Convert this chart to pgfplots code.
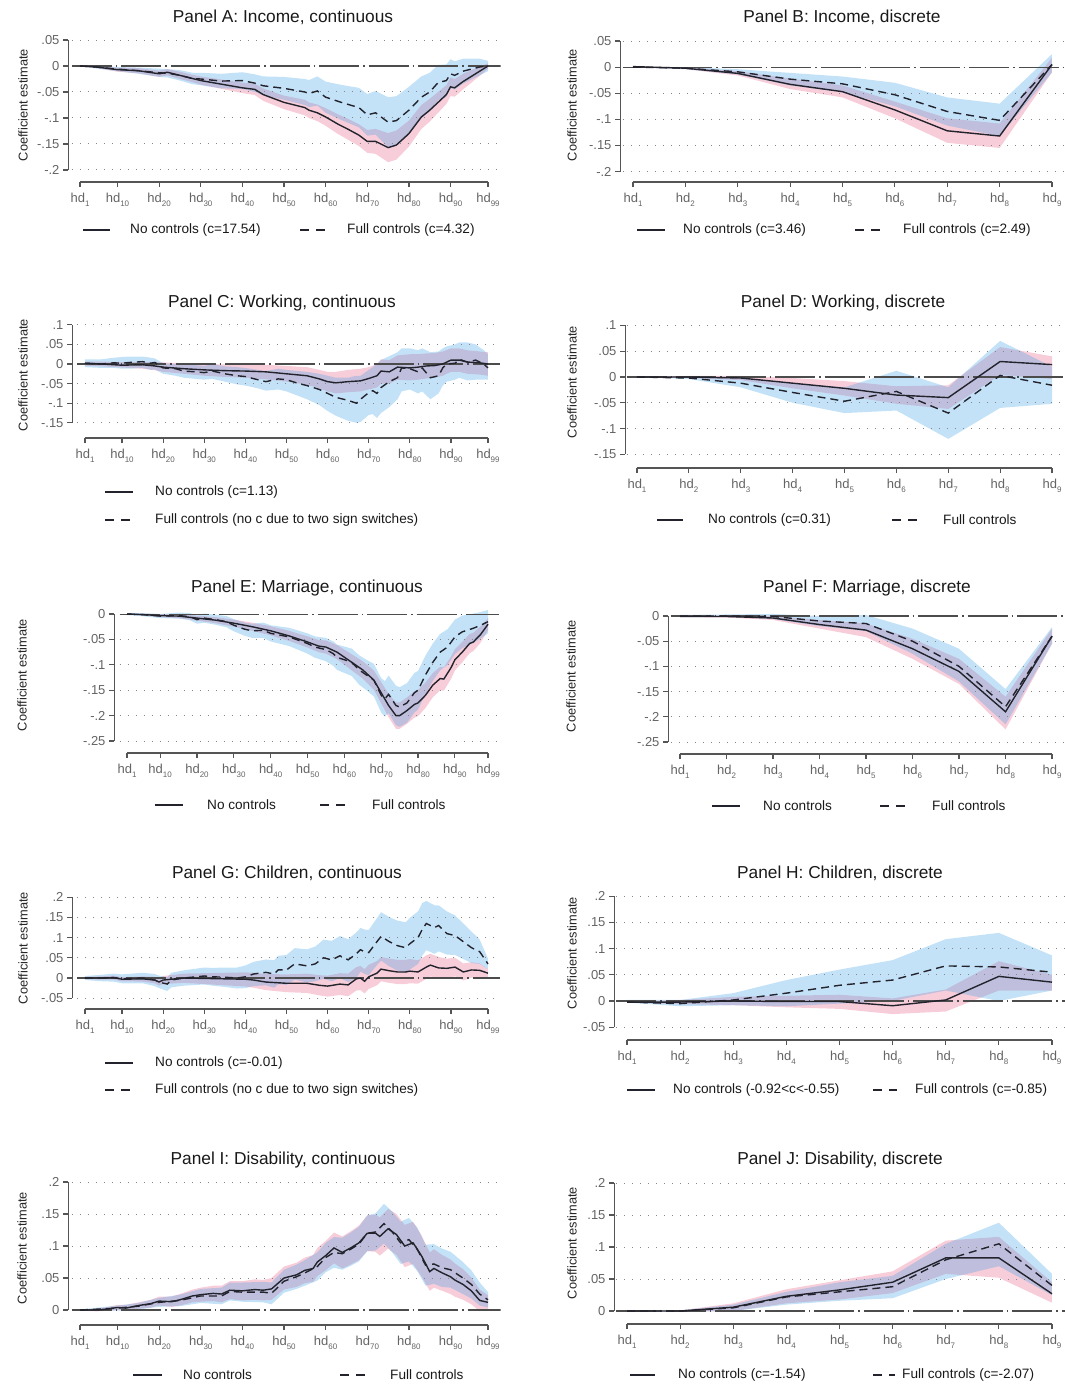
\documentclass[border=0pt]{standalone}
\usepackage{fontspec}
\setmainfont{Liberation Sans}
\usepackage{pgfplots}
\pgfplotsset{compat=1.18}
\usepackage{pgfplotstable}
\usepgfplotslibrary{fillbetween}

\definecolor{pinkB}{RGB}{230,90,130}
\definecolor{blueB}{RGB}{60,160,230}
\definecolor{estc}{RGB}{35,35,45}
\definecolor{axgray}{RGB}{85,85,85}
\definecolor{gridgray}{RGB}{135,135,135}
\definecolor{tickgray}{RGB}{100,100,100}
\definecolor{titlec}{RGB}{25,25,25}

\newcommand\hd[1]{hd\raisebox{-0.3em}{\fontsize{8}{8}\selectfont #1}}

\tikzset{
  axln/.style={draw=axgray,line width=1.3pt},
  gridst/.style={draw=gridgray,line width=1pt,dash pattern=on 1pt off 7pt},
  vgridst/.style={draw=gridgray,line width=1pt,dash pattern=on 1pt off 4.5pt},
  zeroln/.style={draw=black!70,line width=1.1pt,dash pattern=on 40pt off 4pt on 1.5pt off 4pt},
  estsolid/.style={draw=estc,line width=1.4pt},
  estdash/.style={draw=estc,line width=1.4pt,dash pattern=on 8pt off 5pt},
  ttl/.style={font=\fontsize{17.3}{20}\selectfont,text=titlec},
  ylab/.style={font=\fontsize{12.8}{15}\selectfont,text=black!85,rotate=90},
  leg/.style={font=\fontsize{13.6}{16}\selectfont,text=titlec,anchor=west,inner sep=0pt},
}

\pgfplotsset{
  base/.style={scale only axis, anchor=north west,
    axis x line*=bottom, axis y line*=left, axis line style={draw=none},
    tick align=outside, major tick length=5pt,
    every tick/.style={draw=axgray,line width=1.2pt},
    tick label style={font=\fontsize{13}{15}\selectfont,text=tickgray},
    xticklabel style={yshift=-3pt},
  },
  cont/.style={base, xmax=102,
    xtick={1,10,20,30,40,50,60,70,80,90,99},
    xticklabels={\hd{1},\hd{10},\hd{20},\hd{30},\hd{40},\hd{50},\hd{60},\hd{70},\hd{80},\hd{90},\hd{99}}},
  disc/.style={base, xmax=9.3,
    xtick={1,2,3,4,5,6,7,8,9},
    xticklabels={\hd{1},\hd{2},\hd{3},\hd{4},\hd{5},\hd{6},\hd{7},\hd{8},\hd{9}}},
}

\newcommand\band[3]{%
  \addplot[draw=none,forget plot,name path=#2u] table[x=x,y=hi]{#1};
  \addplot[draw=none,forget plot,name path=#2l] table[x=x,y=lo]{#1};
  \addplot[fill=#3,fill opacity=0.3,draw=none,forget plot] fill between[of=#2u and #2l];
}
% vertical grid: list, ylo, yhi ; horizontal grid: list, xlo, xhi
\newcommand\vgrids[3]{\pgfplotsinvokeforeach{#1}{\draw[vgridst] (axis cs:##1,#2) -- (axis cs:##1,#3);}}
\newcommand\hgrids[3]{\pgfplotsinvokeforeach{#1}{\draw[gridst] (axis cs:#2,##1) -- (axis cs:#3,##1);}}

% ---------------- data ----------------
\pgfplotstableread{
x y lo hi
1 0 0 0
5 -0.002 -0.004 0.000
10 -0.007 -0.011 -0.003
15 -0.009 -0.014 -0.004
20 -0.015 -0.021 -0.009
22 -0.012 -0.018 -0.006
25 -0.018 -0.025 -0.011
28 -0.024 -0.031 -0.017
30 -0.028 -0.036 -0.020
35 -0.035 -0.044 -0.026
40 -0.042 -0.052 -0.032
43 -0.045 -0.056 -0.034
45 -0.055 -0.067 -0.043
50 -0.070 -0.083 -0.057
55 -0.080 -0.095 -0.065
56 -0.085 -0.100 -0.070
58 -0.090 -0.106 -0.074
60 -0.098 -0.115 -0.081
63 -0.112 -0.131 -0.093
65 -0.120 -0.140 -0.100
68 -0.133 -0.154 -0.112
70 -0.145 -0.167 -0.123
72 -0.145 -0.169 -0.121
75 -0.157 -0.185 -0.129
77 -0.152 -0.180 -0.124
80 -0.130 -0.155 -0.105
83 -0.098 -0.121 -0.075
85 -0.085 -0.107 -0.063
87 -0.070 -0.090 -0.050
89 -0.055 -0.073 -0.037
90 -0.040 -0.058 -0.022
91 -0.042 -0.059 -0.025
93 -0.030 -0.045 -0.015
95 -0.020 -0.032 -0.008
97 -0.010 -0.019 -0.001
99 0.000 -0.005 0.005
}\tAs
\pgfplotstableread{
x y lo hi
1 0 0 0
5 -0.002 -0.005 0.001
10 -0.006 -0.010 -0.002
15 -0.009 -0.015 -0.003
20 -0.013 -0.021 -0.005
22 -0.014 -0.022 -0.006
25 -0.018 -0.028 -0.008
28 -0.024 -0.035 -0.013
30 -0.025 -0.037 -0.013
35 -0.029 -0.043 -0.015
40 -0.028 -0.044 -0.012
43 -0.033 -0.050 -0.016
45 -0.038 -0.056 -0.020
50 -0.043 -0.065 -0.021
55 -0.050 -0.075 -0.025
56 -0.053 -0.079 -0.027
58 -0.048 -0.076 -0.020
60 -0.060 -0.090 -0.030
63 -0.068 -0.101 -0.035
65 -0.073 -0.108 -0.038
68 -0.080 -0.118 -0.042
70 -0.094 -0.134 -0.054
72 -0.090 -0.132 -0.048
75 -0.108 -0.156 -0.060
77 -0.105 -0.152 -0.058
80 -0.085 -0.130 -0.040
83 -0.060 -0.100 -0.020
85 -0.050 -0.087 -0.013
87 -0.032 -0.066 0.002
89 -0.028 -0.059 0.003
90 -0.015 -0.043 0.013
91 -0.018 -0.045 0.009
93 -0.010 -0.034 0.014
95 -0.006 -0.026 0.014
97 -0.002 -0.018 0.014
99 0.000 -0.010 0.010
}\tAd
\pgfplotstableread{
x y lo hi
1 0.001 0.001 0.001
2 -0.002 -0.004 0.000
3 -0.012 -0.016 -0.008
4 -0.033 -0.042 -0.022
5 -0.047 -0.058 -0.035
6 -0.082 -0.098 -0.066
7 -0.122 -0.145 -0.098
8 -0.132 -0.155 -0.108
9 0.005 -0.010 0.018
}\tBs
\pgfplotstableread{
x y lo hi
1 0 0 0
2 -0.002 -0.004 0.000
3 -0.009 -0.014 -0.004
4 -0.023 -0.035 -0.011
5 -0.032 -0.048 -0.018
6 -0.053 -0.075 -0.030
7 -0.085 -0.112 -0.058
8 -0.102 -0.132 -0.070
9 0.005 -0.010 0.025
}\tBd
\pgfplotstableread{
x y lo hi
1 0.002 -0.004 0.006
5 0.000 -0.006 0.006
10 -0.003 -0.009 0.005
15 -0.002 -0.012 0.006
18 -0.005 -0.016 0.005
20 -0.008 -0.020 0.004
25 -0.012 -0.025 0.002
30 -0.015 -0.030 0.000
35 -0.017 -0.033 -0.001
40 -0.018 -0.035 0.000
45 -0.020 -0.039 -0.002
50 -0.025 -0.045 -0.005
55 -0.030 -0.053 -0.008
58 -0.038 -0.062 -0.015
60 -0.045 -0.070 -0.020
62 -0.048 -0.075 -0.020
65 -0.045 -0.072 -0.015
68 -0.043 -0.070 -0.012
70 -0.037 -0.065 -0.008
72 -0.030 -0.060 0.000
73 -0.018 -0.050 0.012
75 -0.020 -0.050 0.010
77 -0.008 -0.040 0.022
80 -0.010 -0.042 0.025
82 -0.008 -0.040 0.025
84 -0.005 -0.037 0.027
86 -0.004 -0.035 0.028
88 0.000 -0.030 0.032
90 0.010 -0.020 0.040
92 0.010 -0.020 0.040
94 0.005 -0.025 0.035
97 0.003 -0.027 0.032
99 0.000 -0.030 0.030
}\tCs
\pgfplotstableread{
x y lo hi
1 0.002 -0.008 0.012
5 0.000 -0.010 0.012
8 0.003 -0.010 0.016
10 0.002 -0.012 0.018
12 0.004 -0.012 0.019
15 0.006 -0.010 0.019
17 0.002 -0.015 0.016
18 0.004 -0.014 0.014
20 -0.010 -0.025 0.002
23 -0.012 -0.030 0.000
25 -0.018 -0.035 -0.002
28 -0.020 -0.038 -0.003
30 -0.022 -0.040 -0.005
32 -0.018 -0.038 0.000
35 -0.025 -0.045 -0.006
38 -0.030 -0.052 -0.008
40 -0.032 -0.055 -0.010
43 -0.040 -0.062 -0.015
45 -0.045 -0.068 -0.018
48 -0.038 -0.065 -0.012
50 -0.040 -0.070 -0.015
53 -0.050 -0.082 -0.018
55 -0.055 -0.090 -0.020
58 -0.065 -0.105 -0.025
60 -0.075 -0.120 -0.030
62 -0.085 -0.132 -0.035
65 -0.093 -0.145 -0.035
67 -0.100 -0.150 -0.030
68 -0.090 -0.148 -0.030
70 -0.073 -0.130 -0.015
71 -0.068 -0.128 -0.008
72 -0.075 -0.138 0.000
73 -0.060 -0.125 0.010
75 -0.045 -0.110 0.020
77 -0.035 -0.090 0.030
78 -0.010 -0.070 0.040
80 -0.012 -0.065 0.040
82 -0.020 -0.075 0.035
83 -0.010 -0.070 0.040
85 -0.035 -0.090 0.030
87 -0.030 -0.075 0.032
88 -0.010 -0.055 0.040
89 0.000 -0.045 0.045
91 0.002 -0.040 0.050
92 0.012 -0.035 0.055
94 0.005 -0.042 0.055
96 0.010 -0.040 0.050
98 0.000 -0.040 0.035
99 -0.010 -0.040 0.025
}\tCd
\pgfplotstableread{
x y lo hi
1 0 0 0
2 0 -0.002 0.002
3 -0.002 -0.006 0.002
4 -0.012 -0.022 -0.002
5 -0.022 -0.036 -0.008
6 -0.035 -0.052 -0.018
7 -0.040 -0.062 -0.016
8 0.030 0.004 0.058
9 0.024 -0.004 0.040
}\tDs
\pgfplotstableread{
x y lo hi
1 0 0 0
2 -0.002 -0.004 0.001
3 -0.012 -0.020 -0.003
4 -0.030 -0.050 -0.012
5 -0.047 -0.070 -0.020
6 -0.028 -0.065 0.012
7 -0.070 -0.120 -0.020
8 0.003 -0.060 0.070
9 -0.016 -0.052 0.020
}\tDd
\pgfplotstableread{
x y lo hi
1 0 0 0
5 -0.001 -0.003 0.001
10 -0.003 -0.006 0.000
15 -0.004 -0.008 0.000
20 -0.008 -0.013 -0.003
25 -0.012 -0.018 -0.006
30 -0.018 -0.025 -0.011
35 -0.025 -0.033 -0.017
40 -0.033 -0.042 -0.024
45 -0.043 -0.053 -0.033
50 -0.055 -0.066 -0.044
53 -0.063 -0.075 -0.051
55 -0.065 -0.078 -0.052
58 -0.075 -0.089 -0.061
60 -0.085 -0.100 -0.070
62 -0.095 -0.111 -0.079
65 -0.110 -0.127 -0.093
68 -0.130 -0.149 -0.111
70 -0.155 -0.176 -0.134
72 -0.180 -0.203 -0.157
74 -0.200 -0.226 -0.174
75 -0.200 -0.226 -0.174
77 -0.190 -0.216 -0.164
79 -0.178 -0.204 -0.152
80 -0.175 -0.201 -0.149
82 -0.160 -0.185 -0.135
84 -0.140 -0.164 -0.116
86 -0.127 -0.150 -0.104
87 -0.128 -0.151 -0.105
89 -0.105 -0.127 -0.083
90 -0.090 -0.111 -0.069
92 -0.075 -0.095 -0.055
94 -0.058 -0.077 -0.039
95 -0.055 -0.073 -0.037
97 -0.040 -0.056 -0.024
99 -0.020 -0.032 -0.008
}\tEs
\pgfplotstableread{
x y lo hi
1 0 -0.002 0.002
5 -0.001 -0.004 0.002
10 -0.004 -0.008 0.000
15 -0.003 -0.009 0.003
18 -0.005 -0.012 0.002
20 -0.011 -0.019 -0.003
22 -0.008 -0.017 0.001
25 -0.011 -0.021 -0.001
28 -0.015 -0.026 -0.004
30 -0.022 -0.034 -0.010
33 -0.030 -0.043 -0.017
35 -0.033 -0.047 -0.019
38 -0.032 -0.047 -0.017
40 -0.038 -0.054 -0.022
45 -0.045 -0.063 -0.027
50 -0.058 -0.078 -0.038
52 -0.065 -0.086 -0.044
55 -0.070 -0.093 -0.047
57 -0.078 -0.102 -0.054
58 -0.085 -0.110 -0.060
60 -0.090 -0.116 -0.064
62 -0.095 -0.122 -0.068
64 -0.110 -0.139 -0.081
66 -0.120 -0.150 -0.090
68 -0.130 -0.162 -0.098
70 -0.160 -0.194 -0.126
71 -0.167 -0.202 -0.132
72 -0.158 -0.195 -0.121
74 -0.180 -0.219 -0.141
75 -0.183 -0.222 -0.144
77 -0.175 -0.214 -0.136
79 -0.155 -0.194 -0.116
80 -0.150 -0.188 -0.112
82 -0.120 -0.158 -0.082
84 -0.095 -0.132 -0.058
86 -0.075 -0.111 -0.039
88 -0.065 -0.100 -0.030
90 -0.045 -0.079 -0.011
92 -0.035 -0.067 -0.003
95 -0.028 -0.057 0.001
97 -0.022 -0.048 0.004
99 -0.015 -0.038 0.008
}\tEd
\pgfplotstableread{
x y lo hi
1 -0.001 -0.002 0.000
2 -0.001 -0.003 0.001
3 -0.004 -0.008 0.000
4 -0.017 -0.025 -0.008
5 -0.028 -0.042 -0.015
6 -0.065 -0.085 -0.045
7 -0.110 -0.135 -0.085
8 -0.190 -0.225 -0.160
9 -0.040 -0.055 -0.025
}\tFs
\pgfplotstableread{
x y lo hi
1 0 -0.002 0.002
2 0 -0.002 0.003
3 -0.001 -0.006 0.004
4 -0.010 -0.020 0.000
5 -0.015 -0.030 0.002
6 -0.050 -0.075 -0.025
7 -0.100 -0.130 -0.065
8 -0.180 -0.215 -0.145
9 -0.040 -0.055 -0.022
}\tFd
\pgfplotstableread{
x y lo hi
1 0 -0.003 0.003
5 0.000 -0.004 0.004
8 0.001 -0.004 0.006
10 -0.003 -0.008 0.002
15 -0.002 -0.009 0.004
18 -0.005 -0.013 0.003
19 -0.010 -0.019 -0.001
20 -0.005 -0.015 0.005
25 0.000 -0.012 0.011
30 -0.001 -0.015 0.012
35 -0.002 -0.018 0.013
40 -0.003 -0.021 0.014
42 -0.005 -0.024 0.013
45 -0.010 -0.030 0.010
50 -0.013 -0.035 0.009
55 -0.013 -0.037 0.011
58 -0.018 -0.043 0.007
60 -0.020 -0.046 0.006
63 -0.015 -0.042 0.012
65 -0.017 -0.045 0.011
67 -0.002 -0.031 0.027
68 0.000 -0.030 0.030
69 -0.008 -0.038 0.022
70 0.003 -0.027 0.033
72 0.012 -0.018 0.042
73 0.022 -0.008 0.052
75 0.018 -0.012 0.048
77 0.015 -0.015 0.045
79 0.015 -0.015 0.045
80 0.017 -0.013 0.047
82 0.015 -0.014 0.044
84 0.027 -0.002 0.056
85 0.032 0.004 0.060
87 0.025 -0.002 0.052
89 0.024 0.000 0.048
91 0.027 0.004 0.050
93 0.015 -0.006 0.036
95 0.020 0.001 0.039
97 0.019 0.002 0.036
99 0.012 0.002 0.022
}\tGs
\pgfplotstableread{
x y lo hi
1 0 -0.005 0.005
5 0.000 -0.008 0.008
8 0.001 -0.009 0.011
10 -0.002 -0.013 0.009
15 0.000 -0.013 0.013
18 -0.005 -0.020 0.010
19 -0.010 -0.025 0.006
21 -0.015 -0.032 0.002
22 -0.005 -0.023 0.013
25 0.000 -0.019 0.019
30 0.005 -0.016 0.026
32 0.003 -0.019 0.025
35 0.002 -0.022 0.026
38 0.000 -0.026 0.026
40 0.003 -0.025 0.031
42 0.010 -0.020 0.040
45 0.014 -0.018 0.046
47 0.010 -0.024 0.044
48 0.020 -0.015 0.055
50 0.020 -0.017 0.057
52 0.035 -0.004 0.074
55 0.030 -0.011 0.071
57 0.035 -0.008 0.078
59 0.050 -0.002 0.095
61 0.045 -0.008 0.092
63 0.055 0.000 0.104
65 0.045 -0.010 0.096
67 0.060 0.000 0.113
68 0.070 0.016 0.124
69 0.065 0.010 0.120
70 0.063 0.007 0.119
72 0.090 0.032 0.148
73 0.103 0.043 0.163
75 0.090 0.029 0.151
77 0.080 0.018 0.142
79 0.075 0.012 0.138
80 0.085 0.021 0.149
82 0.100 0.035 0.165
83 0.120 0.055 0.185
84 0.135 0.069 0.191
86 0.125 0.060 0.180
87 0.130 0.066 0.180
89 0.110 0.058 0.165
91 0.105 0.057 0.155
93 0.090 0.047 0.135
95 0.075 0.037 0.115
97 0.065 0.035 0.095
99 0.035 0.022 0.048
}\tGd
\pgfplotstableread{
x y lo hi
1 -0.002 -0.003 -0.001
2 -0.002 -0.006 0.002
3 0.000 -0.008 0.008
4 -0.001 -0.012 0.010
5 -0.001 -0.015 0.012
6 -0.009 -0.025 0.005
7 0.002 -0.020 0.022
8 0.047 0.020 0.076
9 0.036 0.020 0.050
}\tHs
\pgfplotstableread{
x y lo hi
1 -0.002 -0.003 0.002
2 -0.005 -0.010 0.002
3 0.002 -0.008 0.015
4 0.015 -0.010 0.040
5 0.030 -0.005 0.060
6 0.040 0.000 0.078
7 0.067 0.020 0.118
8 0.065 0.000 0.130
9 0.055 0.020 0.087
}\tHd
\pgfplotstableread{
x y lo hi
1 0 -0.001 0.001
5 0.000 -0.002 0.002
8 0.002 -0.001 0.005
10 0.004 0.000 0.008
12 0.003 -0.001 0.008
15 0.007 0.002 0.012
18 0.010 0.004 0.016
20 0.014 0.007 0.021
23 0.013 0.005 0.021
25 0.016 0.007 0.025
28 0.022 0.012 0.032
30 0.024 0.013 0.035
33 0.026 0.014 0.038
35 0.025 0.012 0.038
37 0.031 0.017 0.045
40 0.030 0.015 0.045
43 0.032 0.016 0.048
45 0.031 0.015 0.047
47 0.033 0.016 0.050
50 0.050 0.032 0.068
53 0.055 0.036 0.074
55 0.062 0.042 0.082
57 0.065 0.044 0.086
58 0.075 0.053 0.097
60 0.085 0.062 0.108
62 0.097 0.073 0.121
64 0.090 0.065 0.115
66 0.097 0.071 0.123
68 0.105 0.078 0.132
70 0.120 0.092 0.148
72 0.120 0.091 0.149
73 0.115 0.085 0.145
75 0.127 0.096 0.158
77 0.118 0.086 0.150
79 0.100 0.067 0.133
81 0.105 0.072 0.138
83 0.085 0.053 0.117
85 0.060 0.030 0.090
86 0.065 0.035 0.095
88 0.058 0.030 0.086
90 0.052 0.025 0.079
91 0.047 0.021 0.073
93 0.040 0.016 0.064
95 0.030 0.009 0.051
97 0.015 -0.002 0.032
99 0.012 0.001 0.023
}\tIs
\pgfplotstableread{
x y lo hi
1 0 -0.001 0.001
10 0.003 -0.001 0.007
15 0.006 0.001 0.011
20 0.012 0.005 0.019
25 0.015 0.006 0.024
30 0.022 0.011 0.033
35 0.022 0.009 0.035
37 0.029 0.015 0.043
40 0.028 0.013 0.043
45 0.028 0.012 0.044
47 0.026 0.009 0.043
50 0.045 0.027 0.063
53 0.052 0.033 0.071
55 0.058 0.038 0.078
58 0.068 0.046 0.090
60 0.082 0.059 0.105
62 0.090 0.066 0.114
64 0.088 0.063 0.113
66 0.095 0.069 0.121
68 0.103 0.076 0.130
70 0.120 0.092 0.148
72 0.122 0.093 0.151
74 0.135 0.104 0.166
76 0.122 0.090 0.154
78 0.105 0.072 0.138
80 0.110 0.076 0.144
82 0.095 0.061 0.129
84 0.070 0.038 0.102
86 0.072 0.041 0.103
88 0.066 0.036 0.096
90 0.063 0.035 0.091
93 0.050 0.025 0.075
95 0.040 0.018 0.062
97 0.025 0.007 0.043
99 0.016 0.004 0.028
}\tId
\pgfplotstableread{
x y lo hi
1 0 0 0
2 0 -0.001 0.001
3 0.006 0.000 0.012
4 0.023 0.012 0.034
5 0.033 0.018 0.048
6 0.045 0.028 0.062
7 0.083 0.058 0.110
8 0.083 0.052 0.116
9 0.027 0.013 0.045
}\tJs
\pgfplotstableread{
x y lo hi
1 0 0 0
2 0 -0.001 0.001
3 0.005 0.000 0.010
4 0.022 0.010 0.030
5 0.030 0.016 0.045
6 0.038 0.020 0.055
7 0.080 0.050 0.105
8 0.105 0.070 0.138
9 0.040 0.025 0.058
}\tJd

% panel body: #1 solid table, #2 dashed table, #3 prefix
\newcommand\panelbody[3]{%
  \band{#1}{#3s}{pinkB}
  \band{#2}{#3d}{blueB}
  \addplot[estsolid] table[x=x,y=y]{#1};
  \addplot[estdash] table[x=x,y=y]{#2};
}
\def\contx{1,10,20,30,40,50,60,70,80,90,99}
\def\discx{1,2,3,4,5,6,7,8,9}

\begin{document}
\begin{tikzpicture}

% ===== Panel A =====
\begin{axis}[cont, at={(68pt,-32.2pt)}, width=432.5pt, height=149.8pt,
  xmin=-1.883, ymin=-0.2231, ymax=0.065, ytick={-0.2,-0.15,-0.1,-0.05,0,0.05},
  yticklabels={{-.2},{-.15},{-.1},{-.05},0,{.05}}]
  \vgrids{\contx}{-0.206}{0.065}
  \hgrids{-0.2,-0.15,-0.1,-0.05,0.05}{-1}{102}
  \draw[zeroln] (axis cs:-1,0) -- (axis cs:102,0);
  \panelbody{\tAs}{\tAd}{pa}
  \draw[axln] (axis cs:1,-0.2231) -- (axis cs:99,-0.2231);
  \draw[axln] (axis cs:-1.883,-0.2) -- (axis cs:-1.883,0.05);
\end{axis}
% ===== Panel B =====
\begin{axis}[disc, at={(620pt,-33.2pt)}, width=447.7pt, height=148.8pt,
  xmin=0.752, ymin=-0.2201, ymax=0.065, ytick={-0.2,-0.15,-0.1,-0.05,0,0.05},
  yticklabels={{-.2},{-.15},{-.1},{-.05},0,{.05}}]
  \vgrids{\discx}{-0.206}{0.065}
  \hgrids{-0.2,-0.15,-0.1,-0.05,0.05}{0.8}{9.3}
  \draw[zeroln] (axis cs:0.8,0) -- (axis cs:9.3,0);
  \panelbody{\tBs}{\tBd}{pb}
  \draw[axln] (axis cs:1,-0.2201) -- (axis cs:9,-0.2201);
  \draw[axln] (axis cs:0.752,-0.2) -- (axis cs:0.752,0.05);
\end{axis}
% ===== Panel C =====
\begin{axis}[cont, at={(72pt,-315pt)}, width=428.3pt, height=123pt,
  xmin=-2.161, ymin=-0.1888, ymax=0.125, ytick={-0.15,-0.1,-0.05,0,0.05,0.1},
  yticklabels={{-.15},{-.1},{-.05},0,{.05},{.1}}]
  \vgrids{\contx}{-0.163}{0.125}
  \hgrids{-0.15,-0.1,-0.05,0.05,0.1}{-1}{102}
  \draw[zeroln] (axis cs:-1,0) -- (axis cs:102,0);
  \panelbody{\tCs}{\tCd}{pc}
  \draw[axln] (axis cs:1,-0.1888) -- (axis cs:99,-0.1888);
  \draw[axln] (axis cs:-2.161,-0.15) -- (axis cs:-2.161,0.1);
\end{axis}
% ===== Panel D =====
\begin{axis}[disc, at={(625pt,-316.6pt)}, width=442.6pt, height=151.4pt,
  xmin=0.769, ymin=-0.1764, ymax=0.117, ytick={-0.15,-0.1,-0.05,0,0.05,0.1},
  yticklabels={{-.15},{-.1},{-.05},0,{.05},{.1}}]
  \vgrids{\discx}{-0.165}{0.117}
  \hgrids{-0.15,-0.1,-0.05,0.05,0.1}{0.8}{9.3}
  \draw[zeroln] (axis cs:0.8,0) -- (axis cs:9.3,0);
  \panelbody{\tDs}{\tDd}{pd}
  \draw[axln] (axis cs:1,-0.1764) -- (axis cs:9,-0.1764);
  \draw[axln] (axis cs:0.769,-0.15) -- (axis cs:0.769,0.1);
\end{axis}
% ===== Panel E =====
\begin{axis}[cont, at={(114pt,-604.9pt)}, width=385.1pt, height=148.1pt,
  xmin=-2.529, ymin=-0.2736, ymax=0.018, ytick={-0.25,-0.2,-0.15,-0.1,-0.05,0},
  yticklabels={{-.25},{-.2},{-.15},{-.1},{-.05},0}]
  \vgrids{\contx}{-0.258}{0.018}
  \hgrids{-0.25,-0.2,-0.15,-0.1,-0.05}{-1}{102}
  \draw[zeroln] (axis cs:-1,0) -- (axis cs:102,0);
  \panelbody{\tEs}{\tEd}{pe}
  \draw[axln] (axis cs:1,-0.2736) -- (axis cs:99,-0.2736);
  \draw[axln] (axis cs:-2.529,-0.25) -- (axis cs:-2.529,0);
\end{axis}
% ===== Panel F =====
\begin{axis}[disc, at={(668pt,-606.9pt)}, width=398pt, height=147.1pt,
  xmin=0.742, ymin=-0.2738, ymax=0.018, ytick={-0.25,-0.2,-0.15,-0.1,-0.05,0},
  yticklabels={{-.25},{-.2},{-.15},{-.1},{-.05},0}]
  \vgrids{\discx}{-0.258}{0.018}
  \hgrids{-0.25,-0.2,-0.15,-0.1,-0.05}{0.8}{9.3}
  \draw[zeroln] (axis cs:0.8,0) -- (axis cs:9.3,0);
  \panelbody{\tFs}{\tFd}{pf}
  \draw[axln] (axis cs:1,-0.2738) -- (axis cs:9,-0.2738);
  \draw[axln] (axis cs:0.742,-0.25) -- (axis cs:0.742,0);
\end{axis}
% ===== Panel G =====
\begin{axis}[cont, at={(72pt,-887.1pt)}, width=428.3pt, height=121.9pt,
  xmin=-2.161, ymin=-0.0767, ymax=0.225, ytick={-0.05,0,0.05,0.1,0.15,0.2},
  yticklabels={{-.05},0,{.05},{.1},{.15},{.2}}]
  \vgrids{\contx}{-0.062}{0.225}
  \hgrids{-0.05,0.05,0.1,0.15,0.2}{-1}{102}
  \draw[zeroln] (axis cs:-1,0) -- (axis cs:102,0);
  \panelbody{\tGs}{\tGd}{pg}
  \draw[axln] (axis cs:1,-0.0767) -- (axis cs:99,-0.0767);
  \draw[axln] (axis cs:-2.161,-0.05) -- (axis cs:-2.161,0.2);
\end{axis}
% ===== Panel H =====
\begin{axis}[disc, at={(614pt,-888.3pt)}, width=453.9pt, height=151.7pt,
  xmin=0.755, ymin=-0.0744, ymax=0.215, ytick={-0.05,0,0.05,0.1,0.15,0.2},
  yticklabels={{-.05},0,{.05},{.1},{.15},{.2}}]
  \vgrids{\discx}{-0.062}{0.215}
  \hgrids{-0.05,0.05,0.1,0.15,0.2}{0.8}{9.3}
  \draw[zeroln] (axis cs:0.8,0) -- (axis cs:9.3,0);
  \panelbody{\tHs}{\tHd}{ph}
  \draw[axln] (axis cs:1,-0.0744) -- (axis cs:9,-0.0744);
  \draw[axln] (axis cs:0.755,-0.05) -- (axis cs:0.755,0.2);
\end{axis}
% ===== Panel I =====
\begin{axis}[cont, at={(68pt,-1173.7pt)}, width=432.5pt, height=151.3pt,
  xmin=-1.883, ymin=-0.0234, ymax=0.213, ytick={0,0.05,0.1,0.15,0.2},
  yticklabels={0,{.05},{.1},{.15},{.2}}]
  \vgrids{\contx}{-0.01}{0.213}
  \hgrids{0.05,0.1,0.15,0.2}{-1}{102}
  \draw[zeroln] (axis cs:-1,0) -- (axis cs:102,0);
  \panelbody{\tIs}{\tId}{pi}
  \draw[axln] (axis cs:1,-0.0234) -- (axis cs:99,-0.0234);
  \draw[axln] (axis cs:-1.883,0) -- (axis cs:-1.883,0.2);
\end{axis}
% ===== Panel J =====
\begin{axis}[disc, at={(614pt,-1174.7pt)}, width=453.9pt, height=149.3pt,
  xmin=0.755, ymin=-0.0203, ymax=0.213, ytick={0,0.05,0.1,0.15,0.2},
  yticklabels={0,{.05},{.1},{.15},{.2}}]
  \vgrids{\discx}{-0.01}{0.213}
  \hgrids{0.05,0.1,0.15,0.2}{0.8}{9.3}
  \draw[zeroln] (axis cs:0.8,0) -- (axis cs:9.3,0);
  \panelbody{\tJs}{\tJd}{pj}
  \draw[axln] (axis cs:1,-0.0203) -- (axis cs:9,-0.0203);
  \draw[axln] (axis cs:0.755,0) -- (axis cs:0.755,0.2);
\end{axis}

% ===== titles =====
\node[ttl] at (283pt,-17pt) {Panel A: Income, continuous};
\node[ttl] at (842pt,-17pt) {Panel B: Income, discrete};
\node[ttl] at (282pt,-303pt) {Panel C: Working, continuous};
\node[ttl] at (843pt,-303pt) {Panel D: Working, discrete};
\node[ttl] at (307pt,-588pt) {Panel E: Marriage, continuous};
\node[ttl] at (867pt,-588pt) {Panel F: Marriage, discrete};
\node[ttl] at (287pt,-873pt) {Panel G: Children, continuous};
\node[ttl] at (840pt,-873pt) {Panel H: Children, discrete};
\node[ttl] at (283pt,-1160pt) {Panel I: Disability, continuous};
\node[ttl] at (840pt,-1160pt) {Panel J: Disability, discrete};

% ===== y labels =====
\node[ylab] at (23pt,-105pt) {Coefficient estimate};
\node[ylab] at (572pt,-105pt) {Coefficient estimate};
\node[ylab] at (23pt,-375pt) {Coefficient estimate};
\node[ylab] at (572pt,-382pt) {Coefficient estimate};
\node[ylab] at (22pt,-675pt) {Coefficient estimate};
\node[ylab] at (571pt,-676pt) {Coefficient estimate};
\node[ylab] at (23pt,-948pt) {Coefficient estimate};
\node[ylab] at (572pt,-953pt) {Coefficient estimate};
\node[ylab] at (22pt,-1248pt) {Coefficient estimate};
\node[ylab] at (572pt,-1243pt) {Coefficient estimate};

% ===== legends =====
\tikzset{lgs/.style={draw=estc,line width=1.4pt},lgd/.style={draw=estc,line width=1.4pt,dash pattern=on 9pt off 7pt}}
% A
\draw[lgs] (83pt,-230pt) -- (110pt,-230pt); \node[leg] at (130pt,-230pt) {No controls (c=17.54)};
\draw[lgd] (300pt,-230pt) -- (325pt,-230pt); \node[leg] at (347pt,-230pt) {Full controls (c=4.32)};
% B
\draw[lgs] (637pt,-230pt) -- (665pt,-230pt); \node[leg] at (683pt,-230pt) {No controls (c=3.46)};
\draw[lgd] (855pt,-230pt) -- (880pt,-230pt); \node[leg] at (903pt,-230pt) {Full controls (c=2.49)};
% C
\draw[lgs] (105pt,-492pt) -- (133pt,-492pt); \node[leg] at (155pt,-492pt) {No controls (c=1.13)};
\draw[lgd] (105pt,-520pt) -- (130pt,-520pt); \node[leg] at (155pt,-520pt) {Full controls (no c due to two sign switches)};
% D
\draw[lgs] (657pt,-520pt) -- (683pt,-520pt); \node[leg] at (708pt,-520pt) {No controls (c=0.31)};
\draw[lgd] (892pt,-520pt) -- (917pt,-520pt); \node[leg] at (943pt,-520pt) {Full controls};
% E
\draw[lgs] (155pt,-805pt) -- (183pt,-805pt); \node[leg] at (207pt,-805pt) {No controls};
\draw[lgd] (320pt,-805pt) -- (345pt,-805pt); \node[leg] at (372pt,-805pt) {Full controls};
% F
\draw[lgs] (712pt,-806pt) -- (740pt,-806pt); \node[leg] at (763pt,-806pt) {No controls};
\draw[lgd] (880pt,-806pt) -- (905pt,-806pt); \node[leg] at (932pt,-806pt) {Full controls};
% G
\draw[lgs] (105pt,-1063pt) -- (133pt,-1063pt); \node[leg] at (155pt,-1063pt) {No controls (c=-0.01)};
\draw[lgd] (105pt,-1090pt) -- (130pt,-1090pt); \node[leg] at (155pt,-1090pt) {Full controls (no c due to two sign switches)};
% H
\draw[lgs] (627pt,-1090pt) -- (655pt,-1090pt); \node[leg] at (673pt,-1090pt) {No controls (-0.92<c<-0.55)};
\draw[lgd] (873pt,-1090pt) -- (897pt,-1090pt); \node[leg] at (915pt,-1090pt) {Full controls (c=-0.85)};
% I
\draw[lgs] (133pt,-1375pt) -- (162pt,-1375pt); \node[leg] at (183pt,-1375pt) {No controls};
\draw[lgd] (340pt,-1375pt) -- (365pt,-1375pt); \node[leg] at (390pt,-1375pt) {Full controls};
% J
\draw[lgs] (630pt,-1375pt) -- (655pt,-1375pt); \node[leg] at (678pt,-1375pt) {No controls (c=-1.54)};
\draw[lgd] (873pt,-1375pt) -- (895pt,-1375pt); \node[leg] at (902pt,-1375pt) {Full controls (c=-2.07)};

\pgfresetboundingbox
\path[use as bounding box] (0pt,0pt) rectangle (1065pt,-1387pt);
\end{tikzpicture}
\end{document}
